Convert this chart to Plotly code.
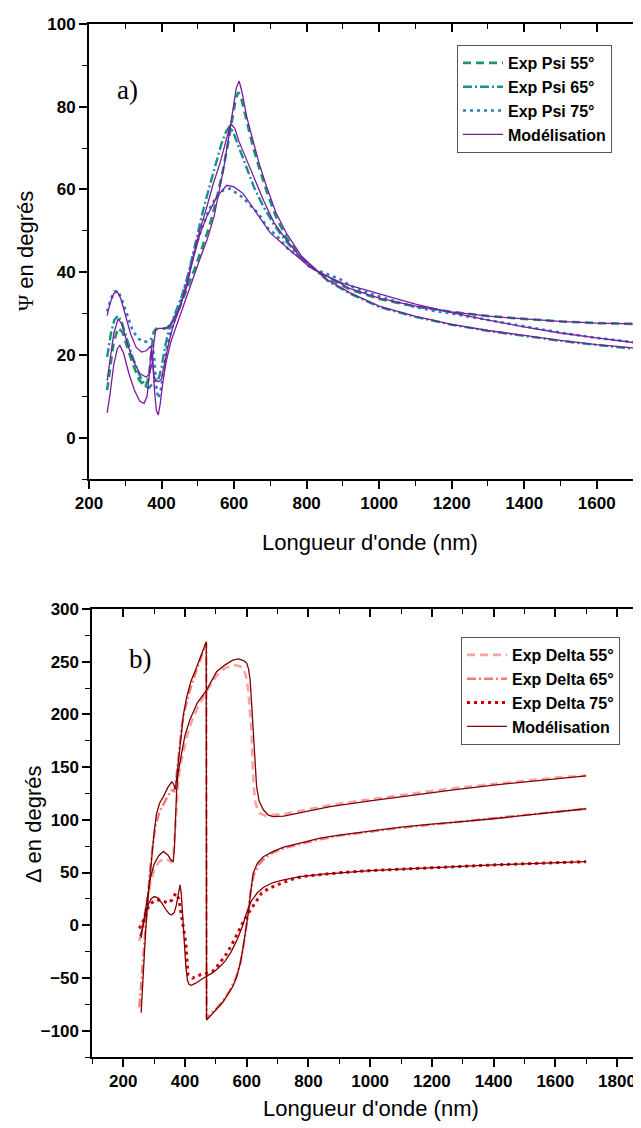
import plotly.graph_objects as go

# ---------------- Panel a) Psi ----------------
psi_exp55_wl = [250, 258, 268, 280, 292, 305, 320, 338, 355, 365, 372, 378, 385, 400, 415, 430, 450, 470, 490, 510, 530, 550, 568, 583, 596, 605, 612, 620, 635, 650, 670, 690, 715, 745, 785, 828, 870, 920, 1000, 1100, 1200, 1300, 1400, 1500, 1600, 1700]
psi_exp55 = [11.5, 17.0, 23.0, 26.5, 25.5, 22.0, 18.0, 14.0, 12.3, 14.5, 20.0, 25.5, 26.3, 26.3, 26.5, 28.0, 31.5, 36.0, 40.5, 45.5, 50.5, 57.0, 64.0, 71.0, 78.0, 82.0, 83.5, 82.0, 76.5, 71.0, 65.0, 59.5, 53.5, 48.3, 43.5, 40.2, 38.0, 35.8, 33.5, 31.7, 30.4, 29.4, 28.7, 28.1, 27.7, 27.5]

psi_exp65_wl = [250, 260, 270, 280, 290, 305, 320, 340, 355, 365, 375, 385, 393, 400, 410, 420, 435, 455, 475, 493, 512, 530, 548, 565, 578, 587, 597, 610, 630, 655, 680, 710, 745, 780, 818, 860, 920, 1000, 1100, 1200, 1300, 1400, 1500, 1600, 1700]
psi_exp65 = [19.5, 25.0, 28.5, 29.5, 28.0, 24.0, 19.5, 15.0, 12.5, 12.0, 13.0, 14.0, 14.5, 17.0, 22.0, 26.0, 29.5, 34.0, 40.0, 47.0, 54.0, 60.0, 66.0, 71.0, 74.0, 75.2, 74.0, 71.0, 66.0, 60.5, 56.0, 51.5, 47.3, 43.8, 41.0, 37.8, 34.8, 31.6, 29.2, 27.3, 25.8, 24.6, 23.4, 22.4, 21.5]

psi_exp75_wl = [250, 260, 270, 280, 292, 305, 320, 335, 350, 362, 372, 380, 386, 391, 397, 405, 415, 430, 450, 470, 490, 510, 530, 550, 570, 589, 605, 625, 644, 667, 694, 717, 750, 782, 809, 850, 892, 928, 975, 1021, 1060, 1104, 1149, 1200, 1300, 1400, 1500, 1600, 1700]
psi_exp75 = [30.5, 33.5, 35.3, 35.5, 33.0, 29.5, 26.0, 24.0, 23.2, 23.2, 24.0, 19.0, 12.0, 9.5, 11.0, 16.0, 22.0, 27.0, 32.0, 38.0, 45.0, 50.5, 55.0, 58.0, 59.8, 60.2, 59.3, 58.0, 56.2, 54.2, 50.5, 48.9, 45.5, 43.7, 41.2, 39.8, 38.3, 36.4, 34.8, 33.6, 32.5, 31.5, 30.7, 30.0, 28.4, 26.9, 25.4, 24.1, 23.1]

psi_mod55_wl = [250, 258, 268, 278, 285, 295, 310, 325, 340, 352, 360, 366, 371, 375, 381, 386, 391, 396, 403, 412, 425, 445, 465, 485, 505, 525, 545, 561, 573, 584, 596, 606, 614, 622, 635, 653, 670, 690, 715, 745, 785, 828, 870, 920, 1000, 1100, 1200, 1300, 1400, 1500, 1600, 1700]
psi_mod55 = [6.0, 10.5, 17.5, 21.5, 22.3, 20.5, 15.5, 11.5, 8.8, 8.3, 10.0, 15.0, 21.0, 19.0, 11.0, 6.5, 5.5, 8.0, 13.0, 18.0, 23.0, 28.0, 33.0, 38.5, 43.0, 47.7, 53.5, 60.6, 66.0, 72.0, 79.5, 84.5, 86.2, 83.5, 77.5, 71.9, 66.0, 60.6, 54.5, 49.3, 44.0, 40.4, 38.3, 36.0, 33.7, 31.8, 30.4, 29.4, 28.7, 28.1, 27.7, 27.5]

psi_mod65_wl = [250, 258, 268, 280, 290, 305, 320, 340, 358, 367, 374, 379, 384, 392, 405, 418, 432, 450, 470, 488, 505, 524, 543, 561, 577, 586, 593, 602, 614, 635, 658, 681, 710, 745, 780, 818, 860, 920, 1000, 1100, 1200, 1300, 1400, 1500, 1600, 1700]
psi_mod65 = [13.8, 19.0, 25.0, 28.7, 27.5, 23.0, 19.0, 15.5, 14.6, 15.5, 18.0, 23.0, 26.0, 26.4, 26.4, 26.6, 28.2, 31.5, 36.5, 44.0, 50.0, 55.5, 61.5, 66.3, 71.5, 74.5, 75.7, 74.8, 71.5, 67.0, 62.0, 57.4, 52.0, 47.7, 44.0, 41.0, 38.0, 35.0, 31.8, 29.3, 27.4, 25.9, 24.7, 23.5, 22.5, 21.7]

psi_mod75_wl = [250, 258, 268, 278, 288, 300, 315, 330, 345, 358, 366, 371, 375, 379, 385, 392, 400, 410, 420, 432, 451, 469, 488, 506, 524, 552, 580, 600, 625, 660, 700, 754, 809, 850, 900, 950, 1000, 1100, 1200, 1300, 1400, 1500, 1600, 1700]
psi_mod75 = [29.5, 32.5, 34.8, 35.3, 33.5, 29.5, 25.0, 21.8, 20.7, 21.0, 21.8, 22.2, 19.0, 15.0, 13.8, 13.5, 14.2, 18.5, 23.0, 27.0, 31.5, 37.2, 43.7, 49.3, 53.3, 58.2, 61.0, 60.6, 59.0, 54.5, 49.5, 45.3, 41.2, 39.3, 37.3, 36.0, 34.8, 32.3, 30.2, 28.4, 26.8, 25.3, 24.1, 23.0]

# ---------------- Panel b) Delta ----------------
dl_exp55_wl = [252, 258, 265, 275, 288, 300, 315, 330, 345, 355, 362, 368, 373, 378, 384, 392, 405, 420, 440, 470, 503, 530, 557, 575, 589, 598, 605, 610, 616, 621, 627, 635, 643, 660, 686, 720, 800, 870, 1000, 1100, 1270, 1400, 1500, 1600, 1700]
dl_exp55 = [-15, -8, 2, 20, 40, 52, 60, 63, 62, 60, 64, 90, 115, 135, 150, 162, 178, 192, 206, 222, 237, 244, 247, 246, 244, 236, 223, 205, 182, 140, 118, 110, 106, 104, 104.5, 105.5, 110, 114, 119.5, 123.5, 130, 134, 137, 140, 142]

dl_exp65_wl = [252, 258, 263, 270, 278, 286, 295, 305, 318, 330, 345, 357, 365, 372, 380, 390, 400, 415, 435, 455, 469, 470, 485, 505, 525, 545, 565, 580, 592, 602, 612, 622, 640, 660, 686, 720, 773, 838, 900, 1000, 1100, 1200, 1300, 1400, 1500, 1600, 1700]
dl_exp65 = [-78, -55, -30, -5, 25, 50, 75, 95, 108, 115, 123, 128, 127, 140, 165, 190, 205, 222, 240, 256, 268, -88, -84, -78, -71, -62, -50, -35, -15, 5, 30, 47, 58, 64, 69, 73, 77, 81.5, 85, 89, 92.5, 95.5, 98.5, 101, 104, 107.5, 110.5]

dl_exp75_wl = [252, 262, 272, 284, 300, 317, 333, 344, 358, 370, 380, 390, 397, 403, 407, 410, 425, 450, 470, 489, 510, 536, 556, 576, 592, 609, 628, 648, 672, 701, 740, 781, 850, 900, 1000, 1100, 1200, 1300, 1400, 1500, 1600, 1700]
dl_exp75 = [-3, 2, 10, 19.4, 23, 24, 22.5, 21, 24, 30.4, 25, 8, -8, -17, -35, -47, -50, -47, -45.5, -44, -37, -26.5, -16, -4.4, 5, 13, 22, 30.4, 35, 38.3, 43, 46.2, 48.5, 49.8, 51.8, 53.3, 54.8, 56, 57.2, 58.3, 59.3, 60.3]

dl_mod55_wl = [258, 263, 270, 278, 288, 300, 315, 330, 345, 355, 362, 366, 370, 373, 378, 384, 389, 400, 416, 440, 470, 503, 530, 555, 573, 590, 600, 606, 611, 616, 621, 627, 632, 640, 654, 670, 686, 720, 800, 870, 1000, 1100, 1270, 1400, 1500, 1600, 1700]
dl_mod55 = [-12, -3, 10, 27, 45, 58, 66, 70, 66.5, 61.5, 60.4, 75, 105, 128, 145, 157, 163, 180, 195, 211, 223, 240.7, 247, 251.5, 252.6, 251, 248.7, 243, 233, 210, 185, 155, 131.6, 118, 109.5, 104.5, 103.1, 103.5, 108, 112.6, 118, 122, 128.5, 133, 136, 139, 141.7]

dl_mod65_wl = [258, 263, 268, 273, 280, 287, 292, 300, 308, 318, 330, 345, 357, 363, 369, 373, 378, 384, 395, 406, 420, 438, 455, 469, 470, 481, 500, 520, 535, 555, 568, 580, 589, 597, 605, 613, 621, 635, 654, 686, 720, 773, 838, 900, 1000, 1100, 1200, 1270, 1400, 1500, 1600, 1700]
dl_mod65 = [-83, -55, -25, -3, 25, 49, 66, 88, 106, 116, 122, 131, 136, 134, 129, 140, 160, 176, 200, 217, 232, 245, 258, 269, -90, -86.6, -80, -74, -67.6, -58, -48.6, -35, -20.2, -5, 11.5, 32, 49.4, 59, 65, 70, 74, 77.9, 82.6, 85.5, 89.5, 93, 96, 97.5, 101, 104, 107.5, 110.5]

dl_mod75_wl = [255, 262, 270, 280, 290, 300, 312, 325, 340, 350, 357, 365, 372, 378, 384, 388, 393, 398, 403, 408, 413, 420, 435, 450, 470, 490, 510, 530, 550, 570, 585, 600, 615, 635, 655, 686, 720, 773, 850, 900, 1000, 1100, 1200, 1300, 1400, 1500, 1600, 1700]
dl_mod75 = [-10, -3, 8, 19, 25, 27.2, 26, 21, 14, 10.5, 9.9, 12, 19, 30, 38.3, 30, 5, -20, -40, -52, -56, -57, -55, -52, -48.6, -45, -40, -34, -25, -13, -2, 12, 23, 31, 36, 40.5, 43, 46.2, 48.5, 49.8, 51.8, 53.3, 54.8, 56, 57.2, 58.3, 59.3, 60.3]

psi_yticks = [0, 20, 40, 60, 80, 100]
psi_xticks = [200, 400, 600, 800, 1000, 1200, 1400, 1600]
dl_yticks = [-100, -50, 0, 50, 100, 150, 200, 250, 300]
dl_xticks = [200, 400, 600, 800, 1000, 1200, 1400, 1600, 1800]

# The page body adds an 8 px margin, so the figure is 8 px smaller and
# every target position (in window pixels) is shifted by 8 px.
OFF = 8
W, H = 641 - OFF, 1128 - OFF
def px(x):
    return (x - OFF) / W
def py(y):
    return 1 - (y - OFF) / H

C_G55 = '#1C9470'
C_G65 = '#17908E'
C_B75 = '#2A80C4'
C_PUR = '#7A1C9E'
C_P55 = '#F6A5A5'
C_P65 = '#F27C7C'
C_R75 = '#D00000'
C_DR = '#800000'

fig = go.Figure()

def add(x, y, name, color, width, dash, xa, ya, legend, show=True):
    fig.add_trace(go.Scatter(x=x, y=y, mode='lines', name=name,
                             line=dict(color=color, width=width, dash=dash),
                             xaxis=xa, yaxis=ya, legend=legend, showlegend=show,
                             hoverinfo='skip'))

# panel a
add(psi_exp55_wl, psi_exp55, 'Exp Psi 55°', C_G55, 2.6, '8px,5px', 'x', 'y', 'legend')
add(psi_exp65_wl, psi_exp65, 'Exp Psi 65°', C_G65, 2.4, '9px,3px,2px,3px', 'x', 'y', 'legend')
add(psi_exp75_wl, psi_exp75, 'Exp Psi 75°', C_B75, 2.6, '3px,4px', 'x', 'y', 'legend')
add(psi_mod55_wl, psi_mod55, 'Modélisation', C_PUR, 1.3, 'solid', 'x', 'y', 'legend')
add(psi_mod65_wl, psi_mod65, 'Modélisation', C_PUR, 1.3, 'solid', 'x', 'y', 'legend', False)
add(psi_mod75_wl, psi_mod75, 'Modélisation', C_PUR, 1.3, 'solid', 'x', 'y', 'legend', False)

# panel b
add(dl_exp55_wl, dl_exp55, 'Exp Delta 55°', C_P55, 2.6, '8px,5px', 'x2', 'y2', 'legend2')
add(dl_exp65_wl, dl_exp65, 'Exp Delta 65°', C_P65, 2.4, '9px,3px,2px,3px', 'x2', 'y2', 'legend2')
add(dl_exp75_wl, dl_exp75, 'Exp Delta 75°', C_R75, 3.0, '3px,4px', 'x2', 'y2', 'legend2')
add(dl_mod55_wl, dl_mod55, 'Modélisation', C_DR, 1.3, 'solid', 'x2', 'y2', 'legend2')
add(dl_mod65_wl, dl_mod65, 'Modélisation', C_DR, 1.3, 'solid', 'x2', 'y2', 'legend2', False)
add(dl_mod75_wl, dl_mod75, 'Modélisation', C_DR, 1.3, 'solid', 'x2', 'y2', 'legend2', False)

# dummy traces for the mirrored tick axes
fig.add_trace(go.Scatter(x=[None], y=[None], xaxis='x3', yaxis='y', showlegend=False, hoverinfo='skip'))
fig.add_trace(go.Scatter(x=[None], y=[None], xaxis='x4', yaxis='y2', showlegend=False, hoverinfo='skip'))
fig.add_trace(go.Scatter(x=[None], y=[None], xaxis='x2', yaxis='y4', showlegend=False, hoverinfo='skip'))

tickfont = dict(family='Liberation Sans, Arial, sans-serif', size=17, color='black', weight='bold')
common = dict(showgrid=False, zeroline=False, showline=True, linecolor='black', linewidth=2,
              ticks='outside', ticklen=8, tickwidth=1.6, tickcolor='black', tickfont=tickfont,
              automargin=False)
mirror_common = dict(showgrid=False, zeroline=False, showline=True, linecolor='black', linewidth=2,
                     ticks='inside', ticklen=8, tickwidth=1.6, tickcolor='black',
                     showticklabels=False, automargin=False)

xa_dom = [px(89), 1.0]
ya_dom = [py(479), py(24)]
xb_dom = [px(92.4), 1.0]
yb_dom = [py(1057), py(609)]

xa_range = [200, 1722]
xb_range = [100, 1877.7]

legfont = dict(family='Liberation Sans, Arial, sans-serif', size=16, color='black', weight='bold')

fig.update_layout(
    width=W, height=H, margin=dict(l=0, r=0, t=0, b=0, autoexpand=False),
    paper_bgcolor='white', plot_bgcolor='white',
    xaxis=dict(domain=xa_dom, range=xa_range, anchor='y', tickvals=psi_xticks,
               minor=dict(dtick=100, tick0=200, ticklen=5, ticks='outside', tickwidth=1.4, tickcolor='black'), **common),
    yaxis=dict(domain=ya_dom, range=[-10, 100], anchor='x', tickvals=psi_yticks,
               minor=dict(dtick=10, tick0=0, ticklen=5, ticks='outside', tickwidth=1.4, tickcolor='black'), **common),
    xaxis3=dict(overlaying='x', side='top', anchor='y', range=xa_range, tickvals=psi_xticks,
                minor=dict(dtick=100, tick0=200, ticklen=5, ticks='inside', tickwidth=1.4, tickcolor='black'),
                **mirror_common),
    xaxis2=dict(domain=xb_dom, range=xb_range, anchor='y2', tickvals=dl_xticks,
                minor=dict(dtick=100, tick0=100, ticklen=5, ticks='outside', tickwidth=1.4, tickcolor='black'), **common),
    yaxis2=dict(domain=yb_dom, range=[-125, 300], anchor='x2', tickvals=dl_yticks,
                minor=dict(dtick=25, tick0=0, ticklen=5, ticks='outside', tickwidth=1.4, tickcolor='black'), **common),
    xaxis4=dict(overlaying='x2', side='top', anchor='y2', range=xb_range, tickvals=dl_xticks,
                minor=dict(dtick=100, tick0=100, ticklen=5, ticks='inside', tickwidth=1.4, tickcolor='black'),
                **mirror_common),
    yaxis4=dict(overlaying='y2', side='right', anchor='x2', range=[-125, 300], showgrid=False, zeroline=False,
                showline=False, ticks='inside', ticklen=4, tickwidth=1.6, tickcolor='black',
                showticklabels=False, tickvals=dl_yticks, automargin=False),
    legend=dict(x=px(457), y=py(45), xanchor='left', yanchor='top', bgcolor='white',
                bordercolor='#555555', borderwidth=1, tracegroupgap=0, itemwidth=40, font=legfont),
    legend2=dict(x=px(461), y=py(637), xanchor='left', yanchor='top', bgcolor='white',
                 bordercolor='#555555', borderwidth=1, tracegroupgap=0, itemwidth=40, font=legfont),
    showlegend=True,
)

title_font = dict(family='Liberation Sans, Arial, sans-serif', size=22, color='black')
serif_font = dict(family='Liberation Serif, DejaVu Serif, serif', size=27, color='black')
annots = [
    dict(text='<span style="font-family:Liberation Serif">Ψ</span> en degrés', x=px(25), y=py(251), textangle=-90),
    dict(text="Longueur d'onde (nm)", x=px(370), y=py(542)),
    dict(text='Δ en degrés', x=px(33), y=py(825), textangle=-90),
    dict(text="Longueur d'onde (nm)", x=px(371), y=py(1108)),
]
for a in annots:
    fig.add_annotation(xref='paper', yref='paper', xanchor='center', yanchor='middle',
                       showarrow=False, font=title_font, **a)
fig.add_annotation(xref='paper', yref='paper', x=px(128), y=py(90), text='a)', showarrow=False,
                   xanchor='center', yanchor='middle', font=serif_font)
fig.add_annotation(xref='paper', yref='paper', x=px(140), y=py(659), text='b)', showarrow=False,
                   xanchor='center', yanchor='middle', font=serif_font)

fig.write_html('out.html')
